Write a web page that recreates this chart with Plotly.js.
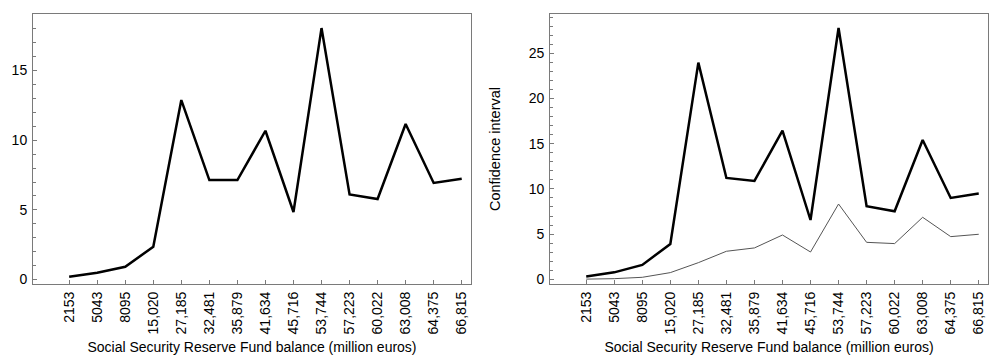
<!DOCTYPE html>
<html>
<head>
<meta charset="utf-8">
<script src="https://cdn.plot.ly/plotly-3.0.1.min.js"></script>
<style>
  html, body { margin: 0; padding: 0; background: #fff; }
  #chart { width: 992px; height: 358px; }
</style>
</head>
<body>
<div id="chart"></div>
<script>
// Reserve fund balance levels (million euros)
const fundBalance = ["2153", "5043", "8095", "15,020", "27,185", "32,481", "35,879",
  "41,634", "45,716", "53,744", "57,223", "60,022", "63,008", "64,375", "66,815"];

// Point estimate
const estimate = [0.2, 0.49, 0.92, 2.35, 12.88, 7.14, 7.14, 10.68, 4.85, 18.05,
  6.11, 5.78, 11.16, 6.93, 7.24];

// Confidence interval bounds
const upperBound = [0.3, 0.77, 1.59, 3.91, 23.97, 11.21, 10.88, 16.45, 6.56, 27.8,
  8.08, 7.52, 15.41, 9.0, 9.48];
const lowerBound = [0.02, 0.07, 0.22, 0.74, 1.84, 3.1, 3.47, 4.9, 3.02, 8.33,
  4.09, 3.95, 6.86, 4.72, 4.98];

const FONT = "Liberation Sans, Arial, sans-serif";
const AXIS_GREY = "#7a7a7a";

const traces = [
  { x: fundBalance, y: estimate, xaxis: "x", yaxis: "y", type: "scatter", mode: "lines",
    line: { color: "#000", width: 2.5 }, hoverinfo: "x+y" },
  { x: fundBalance, y: lowerBound, xaxis: "x2", yaxis: "y2", type: "scatter", mode: "lines",
    line: { color: "#555", width: 1 }, hoverinfo: "x+y" },
  { x: fundBalance, y: upperBound, xaxis: "x2", yaxis: "y2", type: "scatter", mode: "lines",
    line: { color: "#000", width: 2.5 }, hoverinfo: "x+y" }
];

function xAxis(domain, anchor) {
  return {
    domain: domain, anchor: anchor, type: "category",
    range: [-1.29, 14.33],
    showgrid: false, zeroline: false,
    showline: true, linecolor: AXIS_GREY, linewidth: 1, mirror: true,
    ticks: "inside", ticklen: 4, tickcolor: AXIS_GREY, tickwidth: 1,
    tickangle: -90, tickfont: { family: FONT, size: 14, color: "#000" },
    ticklabelstandoff: 1,
    title: { text: "Social Security Reserve Fund balance (million euros)",
             font: { family: FONT, size: 14, color: "#000" }, standoff: 8 }
  };
}

function yAxis(range, dtick, anchor, title) {
  const ax = {
    anchor: anchor, range: range, dtick: dtick, tick0: 0,
    showgrid: false, zeroline: false,
    showline: true, linecolor: AXIS_GREY, linewidth: 1, mirror: true,
    ticks: "inside", ticklen: 4, tickcolor: AXIS_GREY, tickwidth: 1,
    tickfont: { family: FONT, size: 14, color: "#000" },
    ticklabelstandoff: 2,
    minor: { dtick: 1, tick0: 0, ticks: "inside", ticklen: 2.5, tickcolor: AXIS_GREY, tickwidth: 1 }
  };
  if (title) {
    ax.title = { text: title, font: { family: FONT, size: 14.5, color: "#000" }, standoff: 24 };
  }
  return ax;
}

const layout = {
  width: 992, height: 358,
  margin: { l: 33, r: 4, t: 14, b: 74 },
  paper_bgcolor: "#fff", plot_bgcolor: "#fff",
  showlegend: false,
  xaxis: xAxis([0, 0.4586], "y"),
  yaxis: yAxis([-0.32, 19.06], 5, "x"),
  xaxis2: xAxis([0.5414, 1], "y2"),
  yaxis2: yAxis([-0.52, 29.35], 5, "x2", "Confidence interval")
};

Plotly.newPlot("chart", traces, layout, { displayModeBar: false, staticPlot: true });
</script>
</body>
</html>
